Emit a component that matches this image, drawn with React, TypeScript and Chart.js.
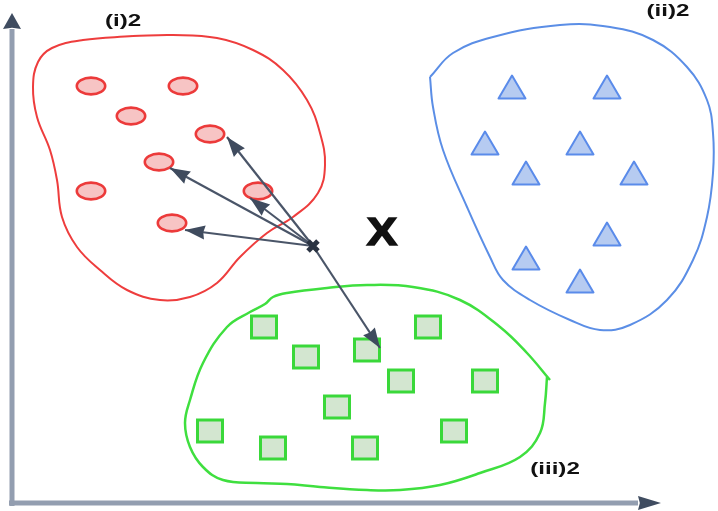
import { useEffect, useRef } from "react";
import { Chart, registerables } from "chart.js";

Chart.register(...registerables);

// ---- data (diagram units: x 0..718 to the right, y 0..511 downward) ----
const CLASS_I_POINTS: [number, number][] = [
  [91, 86], [183, 86], [131, 116], [210, 134], [159, 162], [91, 191], [258, 191], [172, 223],
];
const CLASS_II_POINTS: [number, number][] = [
  [512, 87], [607, 87], [485, 143], [580, 143], [526, 173], [634, 173], [607, 234], [526, 258], [580, 281],
];
const CLASS_III_POINTS: [number, number][] = [
  [264, 327], [428, 327], [306, 357], [367, 350], [401, 381], [485, 381], [337, 407],
  [210, 431], [273, 448], [365, 448], [454, 431],
];
const QUERY_POINT: [number, number] = [313, 246];
const NEIGHBOR_TIPS: [number, number][] = [
  [185, 230], [170, 168], [250, 198], [227, 137], [380, 348],
];
const CLASS_I_BOUNDARY: [number, number][] = [
  [133, 36], [173, 35], [217, 38], [253, 50], [283, 70], [307, 100], [320, 133], [325, 165],
  [318, 193], [293, 217], [267, 233], [240, 257], [217, 283], [190, 297], [160, 300], [127, 290],
  [100, 270], [77, 247], [62, 217], [57, 180], [50, 150], [37, 117], [33, 87], [38, 62], [52, 48],
  [83, 40], [133, 36],
];
const CLASS_II_BOUNDARY: [number, number][] = [
  [430, 77], [453, 53], [493, 37], [560, 25], [610, 27], [653, 40], [687, 67], [707, 100],
  [713, 133], [713, 173], [707, 217], [693, 260], [667, 300], [630, 325], [600, 330], [570, 320],
  [530, 300], [503, 280], [490, 257], [467, 207], [443, 150], [433, 107], [430, 77],
];
const CLASS_III_BOUNDARY: [number, number][] = [
  [547, 377], [545, 403], [540, 433], [520, 457], [480, 473], [440, 485], [400, 490], [367, 490],
  [320, 487], [287, 484], [257, 483], [223, 480], [203, 467], [190, 447], [185, 423], [190, 400],
  [203, 363], [227, 327], [250, 312], [265, 304], [273, 297], [287, 293], [327, 288], [367, 285],
  [413, 287], [460, 300], [500, 327], [527, 353], [550, 380],
];
const Y_AXIS_LINE: [number, number][] = [[12, 506], [12, 29]];
const X_AXIS_LINE: [number, number][] = [[9, 503], [638, 503]];
const LABEL_TEXTS = ["(i)2", "(ii)2", "(iii)2", "X"];
const LABEL_ANCHORS: [number, number][] = [[123, 20], [668, 10], [555, 468], [382, 234]];

const toXY = (pts: [number, number][]) => pts.map(([x, y]) => ({ x, y }));

function makeMarker(kind: string, fill: string, stroke: string): HTMLCanvasElement {
  const c = document.createElement("canvas");
  const ctx = c.getContext("2d")!;
  if (kind === "ellipse") {
    c.width = 34; c.height = 24;
    ctx.beginPath();
    ctx.ellipse(17, 12, 14.2, 8.4, 0, 0, Math.PI * 2);
    ctx.fillStyle = fill; ctx.fill();
    ctx.lineWidth = 2.6; ctx.strokeStyle = stroke; ctx.stroke();
  } else if (kind === "triangle") {
    c.width = 32; c.height = 28;
    ctx.beginPath();
    ctx.moveTo(16, 2.5); ctx.lineTo(29.5, 25.5); ctx.lineTo(2.5, 25.5); ctx.closePath();
    ctx.fillStyle = fill; ctx.fill();
    ctx.lineWidth = 2; ctx.lineJoin = "round"; ctx.strokeStyle = stroke; ctx.stroke();
  } else {
    c.width = 30; c.height = 27;
    ctx.fillStyle = fill; ctx.fillRect(2.5, 2.5, 25, 22);
    ctx.lineWidth = 3; ctx.strokeStyle = stroke; ctx.strokeRect(2.5, 2.5, 25, 22);
  }
  return c;
}

const arrowPlugin = {
  id: "arrowheads",
  afterDatasetsDraw(chart: any) {
    const ctx = chart.ctx;
    chart.data.datasets.forEach((ds: any, i: number) => {
      const head = ds.arrowHead;
      if (!head) return;
      const pts = chart.getDatasetMeta(i).data;
      const a = pts[pts.length - 2];
      const b = pts[pts.length - 1];
      const ang = Math.atan2(b.y - a.y, b.x - a.x);
      ctx.save();
      ctx.translate(b.x, b.y);
      ctx.rotate(ang);
      const off = head.beyond ? head.len : 0;
      ctx.beginPath();
      ctx.moveTo(off, 0);
      ctx.lineTo(off - head.len, head.width / 2);
      ctx.lineTo(off - head.len * 0.92, 0);
      ctx.lineTo(off - head.len, -head.width / 2);
      ctx.closePath();
      ctx.fillStyle = head.color;
      ctx.fill();
      ctx.restore();
    });
  },
};

const labelPlugin = {
  id: "labels",
  afterDatasetsDraw(chart: any) {
    const ctx = chart.ctx;
    const xs = chart.scales.x;
    const ys = chart.scales.y;
    LABEL_TEXTS.forEach((t, i) => {
      const px = xs.getPixelForValue(LABEL_ANCHORS[i][0]);
      const py = ys.getPixelForValue(LABEL_ANCHORS[i][1]);
      ctx.save();
      ctx.translate(px, py);
      const big = t === "X";
      ctx.scale(big ? 1.2 : 1.42, 1);
      ctx.font = big ? "bold 38px 'Liberation Sans', Arial, sans-serif" : "bold 17px 'Liberation Sans', Arial, sans-serif";
      ctx.fillStyle = "#111111";
      ctx.textAlign = "center";
      ctx.textBaseline = "middle";
      if (big) {
        ctx.lineWidth = 1.5;
        ctx.strokeStyle = "#111111";
        ctx.strokeText(t, 0, 1);
      }
      ctx.fillText(t, 0, 1);
      ctx.restore();
    });
  },
};

export default function App() {
  const ref = useRef<HTMLCanvasElement | null>(null);

  useEffect(() => {
    if (!ref.current) return;
    const circle = makeMarker("ellipse", "#f7c4c4", "#ec3a3a");
    const tri = makeMarker("triangle", "#b6cbf1", "#5a8bea");
    const sq = makeMarker("rect", "#d3e6d0", "#3ad83a");

    const arrowColor = "#4a5568";
    const neighborArrows = NEIGHBOR_TIPS.map((tip) => ({
      type: "line",
      data: toXY([QUERY_POINT, tip]),
      borderColor: arrowColor,
      borderWidth: 2.2,
      pointRadius: 0,
      tension: 0,
      arrowHead: { len: 20, width: 14, color: "#3f4b5e" },
    }));

    const blob = (pts: [number, number][], color: string, w: number) => ({
      type: "line",
      data: toXY(pts),
      borderColor: color,
      borderWidth: w,
      pointRadius: 0,
      tension: 0.4,
      fill: false,
    });

    const chart = new Chart(ref.current, {
      type: "scatter",
      data: {
        datasets: [
          {
            type: "scatter",
            data: toXY([QUERY_POINT]),
            pointStyle: "crossRot",
            pointRadius: 7,
            borderWidth: 5,
            borderColor: "#2a3342",
          },
          ...neighborArrows,
          { type: "scatter", data: toXY(CLASS_I_POINTS), pointStyle: circle, pointRadius: 10 },
          { type: "scatter", data: toXY(CLASS_II_POINTS), pointStyle: tri, pointRadius: 10 },
          { type: "scatter", data: toXY(CLASS_III_POINTS), pointStyle: sq, pointRadius: 10 },
          blob(CLASS_I_BOUNDARY, "#ee3d3d", 2),
          blob(CLASS_II_BOUNDARY, "#5b8ee6", 2),
          blob(CLASS_III_BOUNDARY, "#3fdf3f", 2.5),
          {
            type: "line",
            data: toXY(Y_AXIS_LINE),
            borderColor: "#939eb0",
            borderWidth: 5,
            pointRadius: 0,
            arrowHead: { len: 16, width: 18, color: "#3f4c60", beyond: true },
          },
          {
            type: "line",
            data: toXY(X_AXIS_LINE),
            borderColor: "#939eb0",
            borderWidth: 5,
            pointRadius: 0,
            arrowHead: { len: 23, width: 14, color: "#3f4c60", beyond: true },
          },
        ] as any,
      },
      options: {
        animation: false,
        responsive: false,
        devicePixelRatio: 1,
        events: [],
        layout: { padding: 0, autoPadding: false },
        plugins: { legend: { display: false }, tooltip: { enabled: false } },
        scales: {
          x: { type: "linear", min: 0, max: 718, display: false },
          y: { type: "linear", min: 0, max: 511, reverse: true, display: false },
        },
      },
      plugins: [arrowPlugin, labelPlugin],
    } as any);
    return () => chart.destroy();
  }, []);

  return (
    <div style={{ position: "fixed", left: 0, top: 0, width: 718, height: 511, background: "#ffffff" }}>
      <canvas ref={ref} width={718} height={511} />
    </div>
  );
}
